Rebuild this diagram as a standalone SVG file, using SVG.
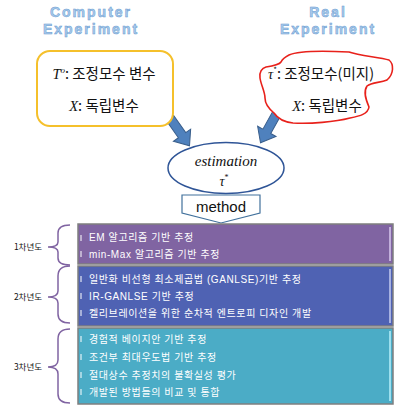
<svg xmlns="http://www.w3.org/2000/svg" width="404" height="414" viewBox="0 0 404 414">
<style>
.title{font-family:"Liberation Sans",Arial,sans-serif;font-weight:bold;font-size:14px;letter-spacing:2px;fill:#a9cbec;stroke:#6a9bd0;stroke-width:0.5;text-anchor:middle}
.kr{font-family:"Noto Sans CJK KR",sans-serif;fill:#111}
.math{font-family:"Liberation Serif",serif;font-style:italic}
.item{font-family:"Liberation Sans","Noto Sans CJK KR",sans-serif;font-size:10px;letter-spacing:0.6px;fill:#fff}
.year{font-family:"Noto Sans CJK KR",sans-serif;font-size:8.5px;fill:#111;text-anchor:middle}
.barrow{fill:#4f81bd;stroke:#385d8a;stroke-width:1}
.brace{fill:none;stroke:#8064a2;stroke-width:1.5}
.box{stroke:#7f7f7f;stroke-width:1.5}
.hl{stroke-width:1.5;fill:none}
.tick{stroke:#fff;stroke-width:1}
</style>
<defs>
<polygon id="arr" points="0,-4.5 21,-4.5 21,-10.5 34,0 21,10.5 21,4.5 0,4.5"/>
</defs>

<g id="title-computer">
<text class="title" x="91" y="17">Computer</text>
<text class="title" x="91" y="34">Experiment</text>
</g>
<g id="title-real">
<text class="title" x="328" y="17">Real</text>
<text class="title" x="328" y="34">Experiment</text>
</g>

<g id="connectors">
<use href="#arr" class="barrow" transform="translate(170,118) rotate(55)"/>
<use href="#arr" class="barrow" transform="translate(277,113) rotate(119)"/>
</g>

<g id="computer-box">
<rect x="37" y="51" width="136" height="75" rx="13" fill="#fff" stroke="#f5c02b" stroke-width="2"/>
<text x="104" y="79" font-size="14.5" text-anchor="middle" class="kr"><tspan class="math">T</tspan><tspan class="math" font-size="9" dy="-6">o</tspan><tspan dy="6">: 조정모수 변수</tspan></text>
<text x="104" y="111" font-size="14.5" text-anchor="middle" class="kr"><tspan class="math">X</tspan>: 독립변수</text>
</g>

<g id="real-box">
<path d="M289,55 C300,50 330,51 349,52 C360,56 380,57 389,60 C394,64 394,74 387,80 C380,83 372,82 367,86 C363,92 366,100 369,107 C368,114 360,116 350,118 C335,122 310,124 293,123 C284,122 278,119 274,113 C268,108 265,104 265,98 C265,92 261,85 260,78 C259,72 262,68 266,67 C273,66 279,65 281,62 C283,58 285,57 289,55 Z" fill="#fff" stroke="#e8211b" stroke-width="1.6"/>
<text x="321" y="79" font-size="14.5" text-anchor="middle" class="kr"><tspan class="math">τ</tspan><tspan font-size="8" dy="-6">*</tspan><tspan dy="6">: 조정모수(미지)</tspan></text>
<text x="327" y="111" font-size="14.5" text-anchor="middle" class="kr"><tspan class="math">X</tspan>: 독립변수</text>
</g>

<g id="estimation">
<ellipse cx="226" cy="168" rx="58" ry="25.5" fill="#fff" stroke="#2f5597" stroke-width="1.5"/>
<text x="226" y="166" font-size="15" text-anchor="middle" font-family="Liberation Serif,serif" font-style="italic" fill="#111">estimation</text>
<text x="224" y="186" font-size="14" text-anchor="middle" font-family="Liberation Serif,serif" font-style="italic" fill="#111">τ<tspan font-size="8" font-style="normal" dy="-6">*</tspan></text>
</g>

<g id="method">
<polygon points="182,195 260,195 260,213 221,223 182,213" fill="#fff" stroke="#41719c" stroke-width="1.2"/>
<text x="221" y="212" font-size="15" text-anchor="middle" font-family="Liberation Sans,Arial,sans-serif" fill="#111">method</text>
</g>

<g id="year1">
<path class="brace" d="M70,225 Q58,225 58,233 L58,242 Q58,247 48,247 Q58,247 58,252 L58,258 Q58,265 70,265"/>
<text class="year" x="28" y="250">1차년도</text>
<rect class="box" x="78" y="224" width="315" height="40" fill="#8064a2"/>
<line class="hl" x1="390" y1="227" x2="390" y2="261" stroke="#d9c9ee"/>
<line class="tick" x1="81" y1="235" x2="81" y2="241"/>
<line class="tick" x1="81" y1="251" x2="81" y2="257"/>
<text class="item" x="89" y="241">EM 알고리즘 기반 추정</text>
<text class="item" x="89" y="258">min-Max 알고리즘 기반 추정</text>
</g>

<g id="year2">
<path class="brace" d="M70,266 Q58,266 58,276 L58,291 Q58,297 48,297 Q58,297 58,303 L58,314 Q58,323 70,323"/>
<text class="year" x="28" y="300">2차년도</text>
<rect class="box" x="78" y="266" width="315" height="60" fill="#4f62b3"/>
<line class="hl" x1="390" y1="269" x2="390" y2="323" stroke="#c5ccf0"/>
<line class="tick" x1="81" y1="276" x2="81" y2="282"/>
<line class="tick" x1="81" y1="293" x2="81" y2="299"/>
<line class="tick" x1="81" y1="310" x2="81" y2="316"/>
<text class="item" x="89" y="283">일반화 비선형 최소제곱법 (GANLSE)기반 추정</text>
<text class="item" x="89" y="300">IR-GANLSE 기반 추정</text>
<text class="item" x="89" y="317">켈리브레이션을 위한 순차적 엔트로피 디자인 개발</text>
</g>

<g id="year3">
<path class="brace" d="M70,329 Q58,329 58,339 L58,360 Q58,367 48,367 Q58,367 58,374 L58,394 Q58,403 70,403"/>
<text class="year" x="28" y="370">3차년도</text>
<rect class="box" x="78" y="328" width="315" height="76" fill="#4bacc6"/>
<line class="hl" x1="390" y1="331" x2="390" y2="401" stroke="#b8f0fb"/>
<line class="tick" x1="81" y1="336" x2="81" y2="342"/>
<line class="tick" x1="81" y1="354" x2="81" y2="360"/>
<line class="tick" x1="81" y1="372" x2="81" y2="378"/>
<line class="tick" x1="81" y1="389" x2="81" y2="395"/>
<text class="item" x="89" y="343">경험적 베이지안 기반 추정</text>
<text class="item" x="89" y="361">조건부 최대우도법 기반 추정</text>
<text class="item" x="89" y="379">절대상수 추정치의 불확실성 평가</text>
<text class="item" x="89" y="396">개발된 방법들의 비교 및 통합</text>
</g>
</svg>
